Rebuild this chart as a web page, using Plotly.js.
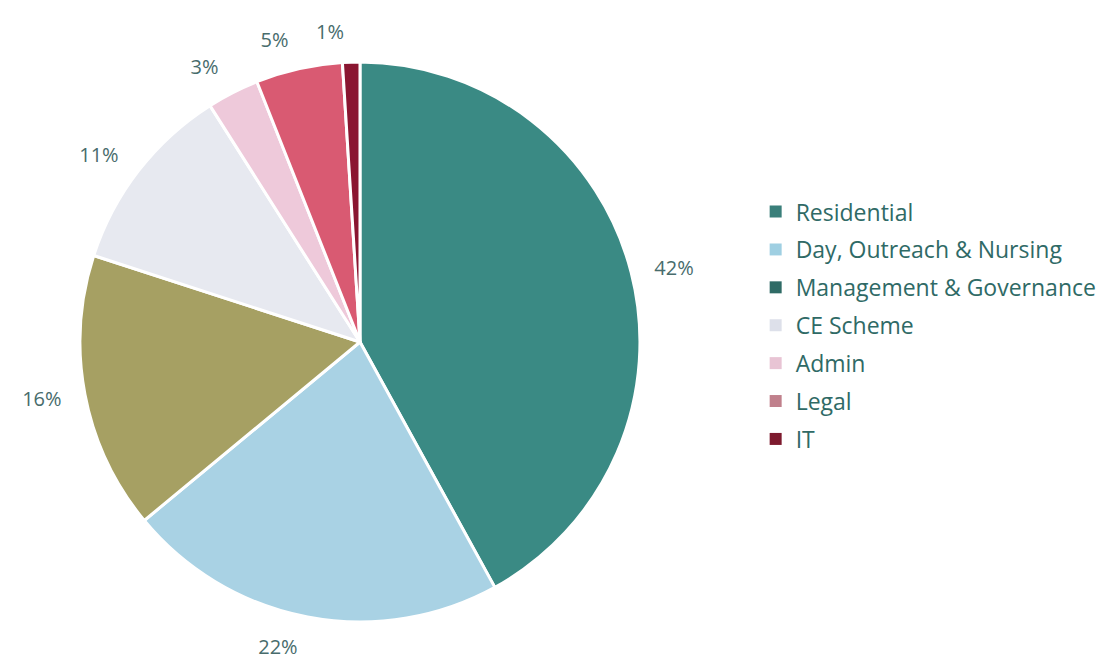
<!DOCTYPE html>
<html><head><meta charset="utf-8">
<script src="https://cdn.plot.ly/plotly-3.0.1.min.js"></script>
<style>html,body{margin:0;padding:0;background:#fff}#c{width:1108px;height:660px}</style>
</head><body><div id="c"></div>
<script>
const categories = ["Residential","Day, Outreach & Nursing","Management & Governance","CE Scheme","Admin","Legal","IT"];
const shares = [42,22,16,11,3,5,1];
const sliceColors = ["#3a8a84","#a9d2e4","#a6a063","#e7e9f0","#eec9da","#d95a72","#8a1631"];
const legendColors = ["#3a7f7a","#9fcfe2","#2f6b66","#dde0ea","#e8c4d4","#c0808c","#7d1a2e"];

const font = "'Open Sans', 'DejaVu Sans', sans-serif";
const textColor = "#486c6c";

// transparent label-carrier pie; `shown` picks which slices get their label
function labelPie(shown, domain) {
  return {
    type: "pie",
    labels: categories,
    values: shares,
    sort: false,
    direction: "clockwise",
    rotation: 0,
    marker: {colors: categories.map(() => "rgba(0,0,0,0)"), line: {width: 0}},
    texttemplate: "%{percent:.0%}",
    textposition: categories.map((c, i) => shown(i) ? "outside" : "none"),
    outsidetextfont: {family: font, size: 20, color: textColor},
    showlegend: false,
    hoverinfo: "skip",
    domain: domain
  };
}
const last = categories.length - 1;
const traces = [
  labelPie(i => i !== last, {x: [0.0569, 0.5929], y: [0.0318, 0.9318]}),
  labelPie(i => i === last, {x: [0.0569, 0.5929], y: [0.0318, 0.9318]}),
  {
    type: "pie",
    labels: categories,
    values: shares,
    sort: false,
    direction: "clockwise",
    rotation: 0,
    marker: {colors: sliceColors, line: {color: "#ffffff", width: 3}},
    textinfo: "none",
    showlegend: false,
    hoverinfo: "label+percent",
    domain: {x: [0.0722, 0.5776], y: [0.0576, 0.906]}
  }
];
categories.forEach((c, i) => {
  traces.push({
    type: "scatter", mode: "markers", x: [null], y: [null], name: c,
    legendgroup: "g" + i,
    marker: {symbol: "square", size: 9, color: legendColors[i]},
    showlegend: true, hoverinfo: "skip"
  });
});

const layout = {
  width: 1108, height: 660,
  margin: {l: 0, r: 0, t: 0, b: 0},
  paper_bgcolor: "#ffffff", plot_bgcolor: "#ffffff",
  xaxis: {visible: false}, yaxis: {visible: false},
  showlegend: true,
  legend: {x: 0.682, y: 0.712, xanchor: "left", yanchor: "top",
    font: {family: font, size: 23, color: "#2f6a66"},
    traceorder: "grouped", tracegroupgap: 5, itemsizing: "constant",
    bgcolor: "rgba(0,0,0,0)"}
};
Plotly.newPlot("c", traces, layout, {displayModeBar: false, staticPlot: true});
</script></body></html>
